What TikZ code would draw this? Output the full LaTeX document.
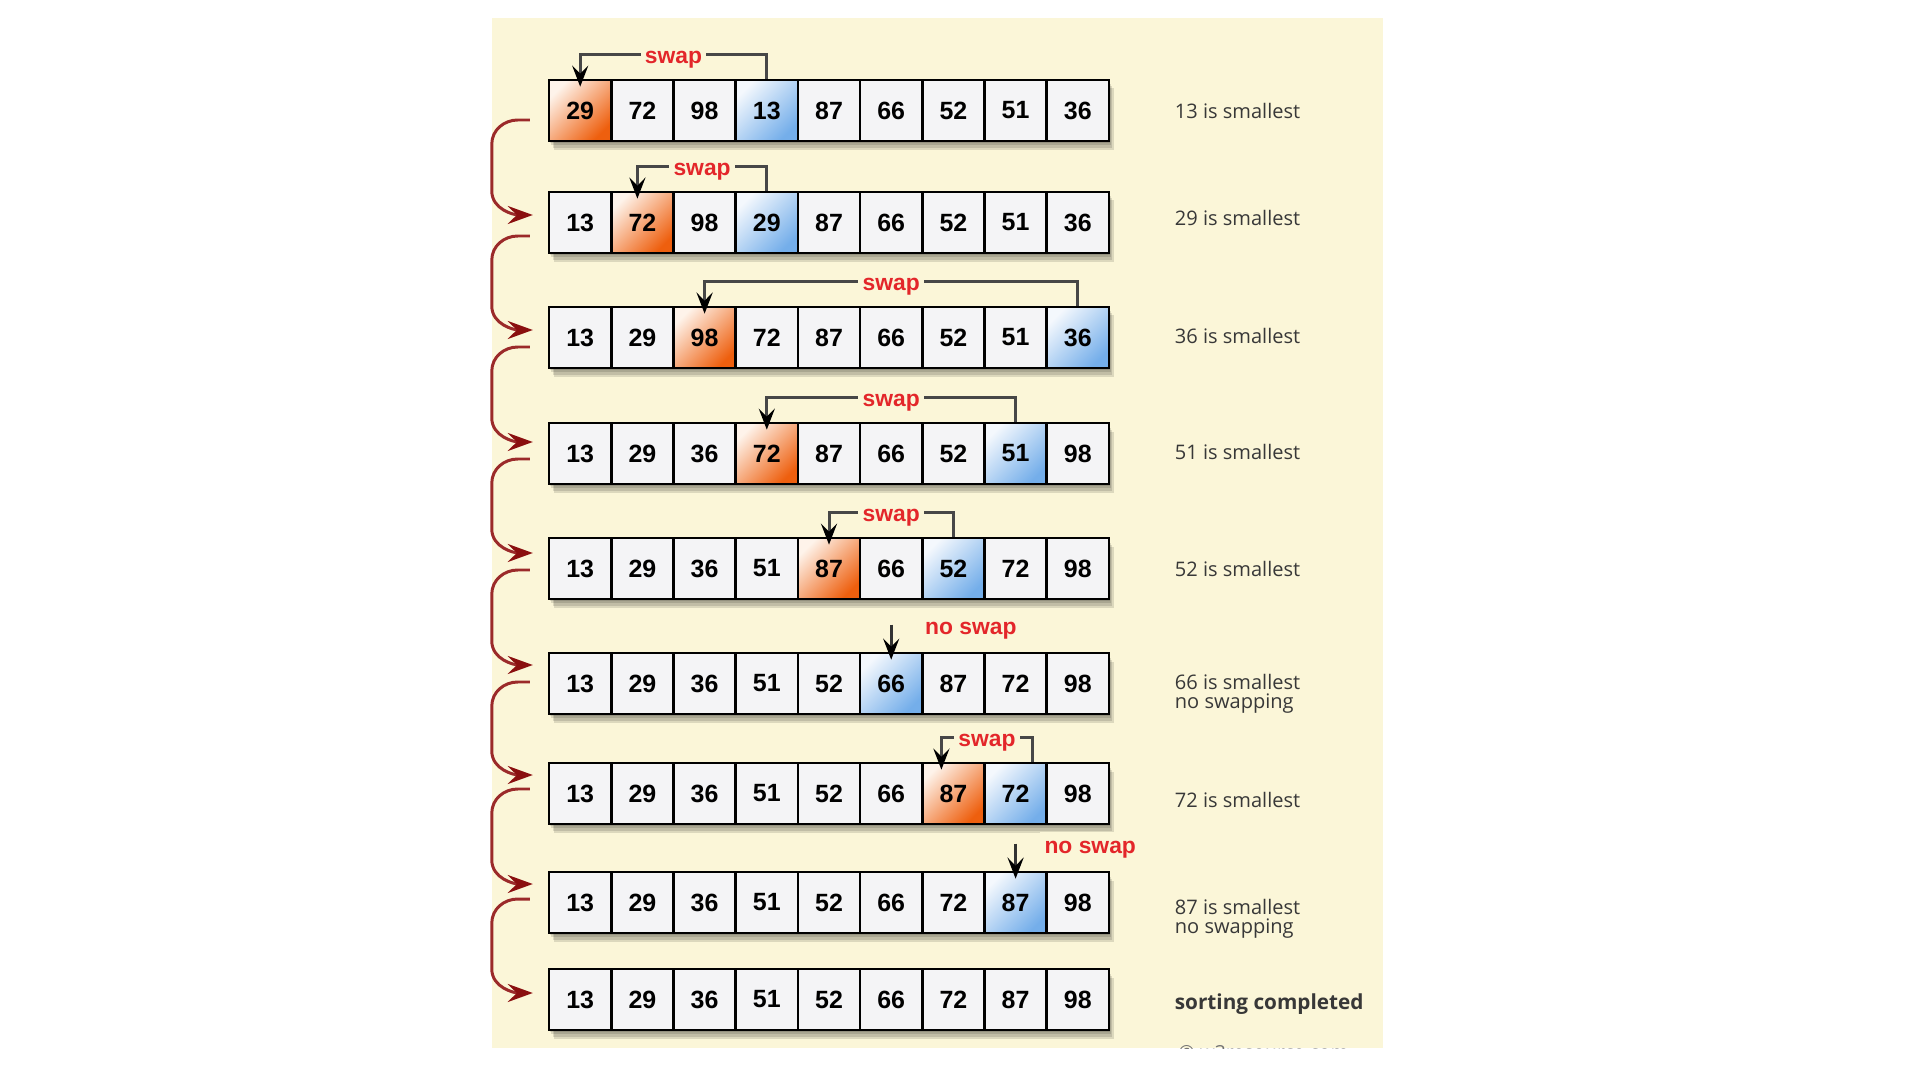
\documentclass[tikz,border=0pt]{standalone}
\usepackage{fontspec}
\setmainfont{Liberation Sans}
\newfontfamily\notefont{Open Sans}
\usetikzlibrary{arrows.meta}
\definecolor{paper}{HTML}{FBF6D8}
\definecolor{swapred}{HTML}{E3262A}
\definecolor{loopred}{HTML}{9B2A2A}
\definecolor{tipred}{HTML}{8A0F0F}
\definecolor{cellgray}{HTML}{F4F4F6}
\definecolor{deeporange}{HTML}{EE5F0E}
\definecolor{midorange}{HTML}{F68E4A}
\definecolor{paleorange}{HTML}{FEF3EA}
\definecolor{deepblue}{HTML}{74AEEA}
\definecolor{midblue}{HTML}{B8D6F4}
\definecolor{paleblue}{HTML}{F4F8FD}
\definecolor{notegray}{HTML}{383838}
\tikzset{
    plaincell/.style={draw=black, line width=0.75pt, minimum width=0.622cm, minimum height=0.61cm, inner sep=0pt, fill=cellgray, font=\fontsize{7.1}{8}\selectfont\bfseries},
    orangecell/.style={plaincell, top color=paleorange, middle color=midorange, bottom color=deeporange, shading angle=45},
    bluecell/.style={plaincell, top color=paleblue, middle color=midblue, bottom color=deepblue, shading angle=45},
    swapline/.style={draw=black!72, line width=0.85pt, -{Stealth[length=2.1mm, width=1.6mm, inset=0.8mm, black]}},
    noswap/.style={draw=black!80, line width=0.8pt, -{Stealth[length=2.1mm, width=1.6mm, inset=0.8mm, black]}},
    swaptag/.style={fill=paper, inner xsep=1.2pt, inner ysep=1pt, text height=1ex, text depth=0pt, text=swapred, font=\fontsize{6.5}{7}\selectfont\bfseries},
    loopline/.style={draw=loopred, line width=0.85pt, -{Stealth[length=2.5mm, width=1.8mm, inset=0.9mm, tipred]}},
    note/.style={anchor=west, align=left, inner sep=0pt, text=notegray, font=\notefont\fontsize{5.7}{5.3}\selectfont}
}
\begin{document}
\begin{tikzpicture}
    \useasboundingbox (0, 0) rectangle (19.2, -10.8);
    \fill[paper] (4.92, -0.18) rectangle (13.83, -10.48);

    \foreach \r/\y/\vals/\o/\b in {
        1/-1.105/{29,72,98,13,87,66,52,51,36}/1/4,
        2/-2.225/{13,72,98,29,87,66,52,51,36}/2/4,
        3/-3.375/{13,29,98,72,87,66,52,51,36}/3/9,
        4/-4.535/{13,29,36,72,87,66,52,51,98}/4/8,
        5/-5.685/{13,29,36,51,87,66,52,72,98}/5/7,
        6/-6.835/{13,29,36,51,52,66,87,72,98}/0/6,
        7/-7.935/{13,29,36,51,52,66,87,72,98}/7/8,
        8/-9.025/{13,29,36,51,52,66,72,87,98}/0/8,
        9/-9.995/{13,29,36,51,52,66,72,87,98}/0/0} {
        \foreach \k in {1,...,4}
            \fill[black, opacity=0.12] ({5.49+0.012*\k}, {\y+0.3-0.02*\k}) rectangle ({11.088+0.012*\k}, {\y-0.305-0.022*\k});
        \foreach \v [count=\c] in \vals {
            \def\kind{plaincell}
            \ifnum\c=\o \def\kind{orangecell}\fi
            \ifnum\c=\b \def\kind{bluecell}\fi
            \node[\kind] (c-\r-\c) at ({5.18+0.622*\c}, \y) {\v};
        }
    }

    \foreach \r/\o/\b/\os/\bs in {1/1/4/0/0, 2/2/4/-0.05/0, 3/3/9/0/0, 4/4/8/0/0, 5/5/7/0/0, 7/7/8/-0.12/0.17}
        \draw[swapline] ([xshift=\bs cm]c-\r-\b.north) -- ++(0, 0.24) -| node[pos=0.25, swaptag] (w-\r) {swap} ([xshift=\os cm, yshift=-0.08cm]c-\r-\o.north);

    \foreach \r/\c/\dx in {6/6/0.29, 8/8/0.24} {
        \coordinate (ns-\r) at ([yshift=0.27cm]c-\r-\c.north);
        \draw[noswap] (ns-\r) -- ([yshift=-0.08cm]c-\r-\c.north);
        \node[swaptag, anchor=west] (nw-\r) at ([xshift=\dx cm, yshift=-0.01cm]ns-\r) {no swap};
    }

    \foreach \r/\n/\ds/\de in {1/2/-0.095/0.075, 2/3/-0.135/0.075, 3/4/-0.095/0.115, 4/5/-0.055/0.155, 5/6/-0.015/0.185, 6/7/0.015/0.185, 7/8/0.045/0.185, 8/9/0.035/0.065} {
        \coordinate (s-\r) at ([xshift=-0.18cm, yshift=\ds cm]c-\r-1.west);
        \coordinate (e-\r) at ([xshift=-0.15cm, yshift=\de cm]c-\n-1.west);
        \draw[loopline] (s-\r) -- ++(-0.12, 0) to[out=180, in=90] ++(-0.26, -0.24) -- ([xshift=-0.41cm, yshift=0.24cm]e-\r) to[out=-90, in=180] (e-\r);
    }

    \foreach \r/\dy/\txt in {1/0/{13 is smallest}, 2/0.05/{29 is smallest}, 3/0.02/{36 is smallest}, 4/0.02/{51 is smallest}, 5/0/{52 is smallest}, 6/-0.1/{66 is smallest\\no swapping}, 7/-0.06/{72 is smallest}, 8/-0.16/{87 is smallest\\no swapping}}
        \node[note] (n-\r) at ([xshift=0.64cm, yshift=\dy cm]c-\r-9.east) {\txt};
    \node[note, font=\notefont\fontsize{5.9}{7}\selectfont\bfseries] (n-9) at ([xshift=0.64cm, yshift=-0.05cm]c-9-9.east) {sorting completed};

    \begin{scope}
        \clip (4.92, -0.18) rectangle (13.83, -10.48);
        \node[anchor=north west, inner sep=0pt, text=black!55, font=\notefont\fontsize{5.5}{6}\selectfont] (wm) at (11.78, -10.445) {© w3resource.com};
    \end{scope}
\end{tikzpicture}
\end{document}
